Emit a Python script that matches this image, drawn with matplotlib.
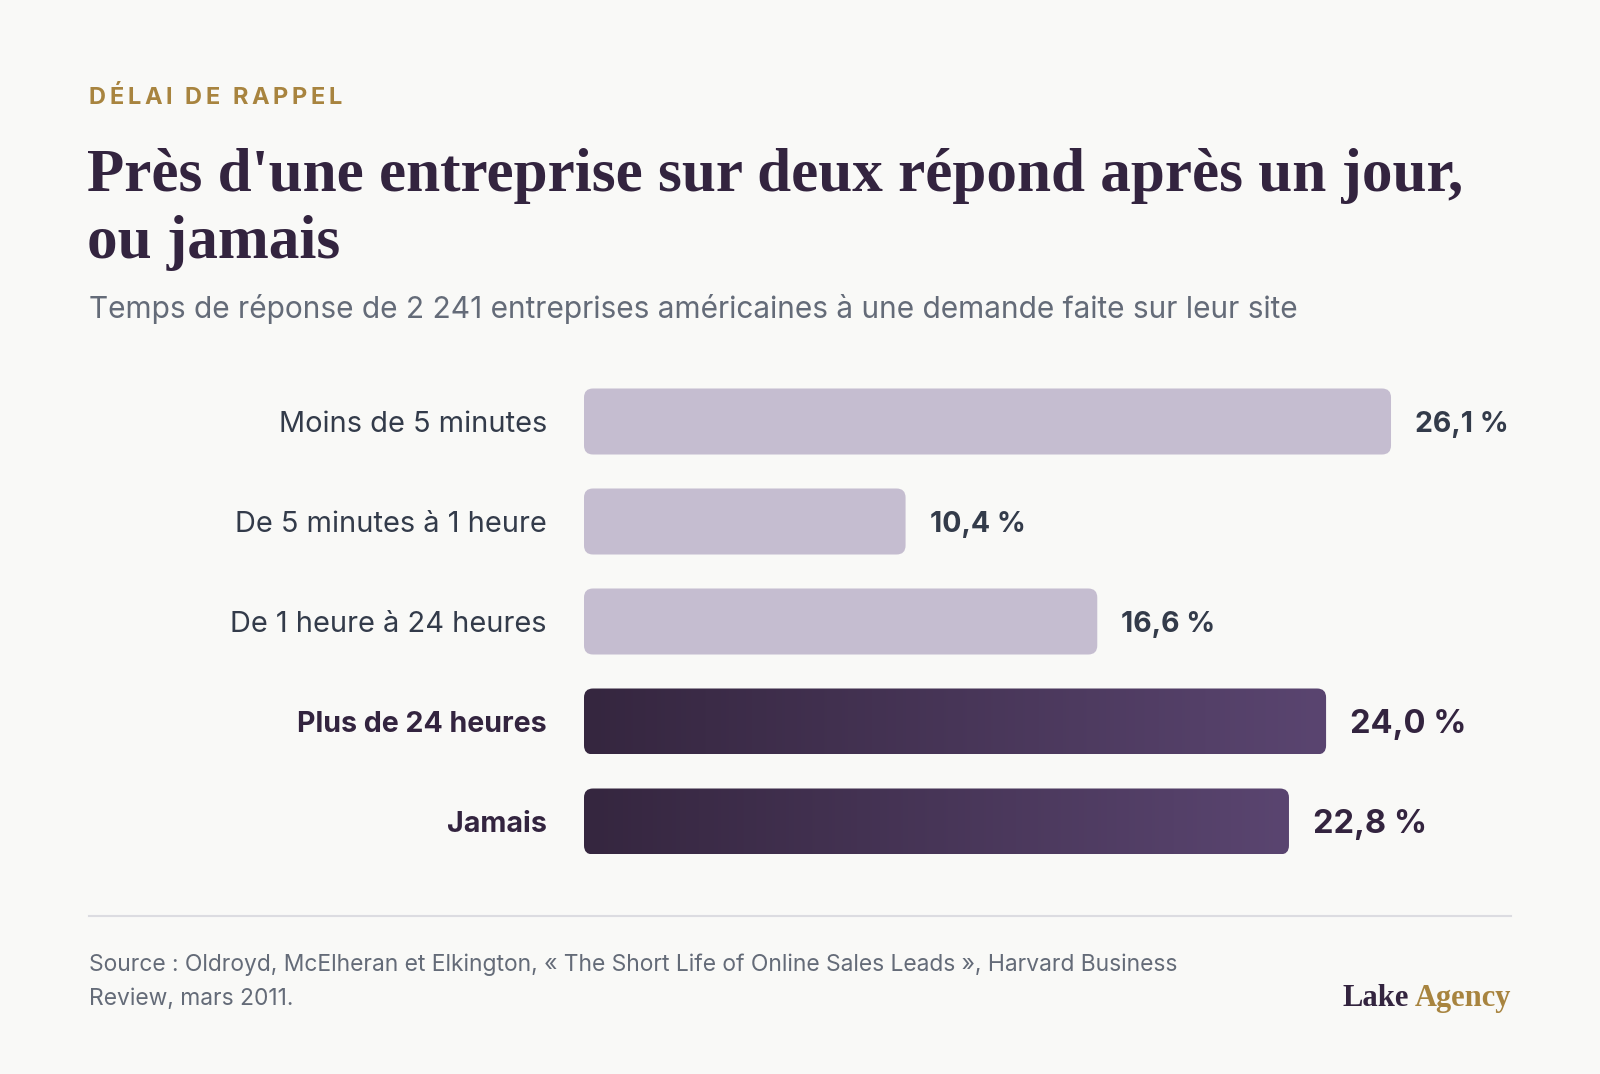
import numpy as np
import matplotlib
matplotlib.use('Agg')
import matplotlib.pyplot as plt
from matplotlib.patches import FancyBboxPatch
from matplotlib.colors import LinearSegmentedColormap

# data
categories = ['Moins de 5 minutes', 'De 5 minutes à 1 heure', 'De 1 heure à 24 heures',
              'Plus de 24 heures', 'Jamais']
shares = [26.1, 10.4, 16.6, 24.0, 22.8]
highlight = [False, False, False, True, True]
value_labels = ['26,1 %', '10,4 %', '16,6 %', '24,0 %', '22,8 %']

eyebrow = 'DÉLAI DE RAPPEL'
title_lines = ["Près d'une entreprise sur deux répond après un jour,", 'ou jamais']
subtitle = 'Temps de réponse de 2 241 entreprises américaines à une demande faite sur leur site'
source_lines = ['Source : Oldroyd, McElheran et Elkington, « The Short Life of Online Sales Leads », Harvard Business',
                'Review, mars 2011.']

BG = '#f9f9f7'
GOLD = '#a8843f'
DARK = '#33243f'
GRAY = '#646b78'
LABEL = '#333b4a'
LIGHT_BAR = '#c5bdd0'
SANS = ['Inter', 'DejaVu Sans']
SERIF = ['Liberation Serif', 'DejaVu Serif']

W, H = 1600, 1074
fig = plt.figure(figsize=(W / 100, H / 100), dpi=100, facecolor=BG)


def fx(px):
    return px / W


def fy(py):
    return 1 - py / H


# header: eyebrow with letter spacing, char by char
fig.canvas.draw()
renderer = fig.canvas.get_renderer()
x = 89
for ch in eyebrow:
    t = fig.text(fx(x), fy(104), ch, family=SANS, fontsize=17, fontweight='bold',
                 color=GOLD, va='baseline')
    if ch == ' ':
        w = t.get_window_extent(renderer).width
        w = w if w > 1 else 5
    else:
        w = t.get_window_extent(renderer).width
    x += w + 3.6

for i, line in enumerate(title_lines):
    fig.text(fx(87), fy(191 + i * 67), line, family=SERIF, fontsize=44,
             fontweight='bold', color=DARK, va='baseline')
fig.text(fx(89), fy(318), subtitle, family=SANS, fontsize=21.5, color=GRAY, va='baseline')

# bars
ax = fig.add_axes([fx(584), fy(871.5), 927.6 / W, 500 / H])
ax.set_xlim(0, 30)
ax.set_ylim(len(categories) - 0.5, -0.5)
ax.axis('off')

px_x = 927.6 / 30
px_y = 100.0
bar_h = 0.66
rad = 9 / px_x
cmap = LinearSegmentedColormap.from_list('dark', ['#35263f', '#5a4570'])
grad = np.linspace(0, 1, 256).reshape(1, -1)
dy = 0.035

for i, (cat, v) in enumerate(zip(categories, shares)):
    patch = FancyBboxPatch((0, i - bar_h / 2), v, bar_h,
                           boxstyle=f'round,pad=0,rounding_size={rad}',
                           mutation_aspect=px_x / px_y,
                           facecolor=LIGHT_BAR if not highlight[i] else 'none',
                           edgecolor='none')
    ax.add_patch(patch)
    if highlight[i]:
        im = ax.imshow(grad, cmap=cmap, aspect='auto',
                       extent=(0, v, i + bar_h / 2, i - bar_h / 2))
        im.set_clip_path(patch)
        ax.text(-37 / px_x, i + dy, cat, family=SANS, fontsize=20.6, fontweight='bold',
                color=DARK, ha='right', va='center')
        ax.text(v + 24 / px_x, i + dy, value_labels[i], family=SANS, fontsize=23.5,
                fontweight='bold', color=DARK, ha='left', va='center')
    else:
        ax.text(-37 / px_x, i + dy, cat, family=SANS, fontsize=20.9, color=LABEL,
                ha='right', va='center')
        ax.text(v + 24 / px_x, i + dy, value_labels[i], family=SANS, fontsize=20.5,
                fontweight='bold', color=LABEL, ha='left', va='center')

ax.set_xlim(0, 30)
ax.set_ylim(len(categories) - 0.5, -0.5)

# footer
fig.add_artist(plt.Line2D([fx(89), fx(1511)], [fy(916), fy(916)], color='#dcdce1', lw=1.5))
for i, line in enumerate(source_lines):
    fig.text(fx(89), fy(971 + i * 34), line, family=SANS, fontsize=16.45, color=GRAY,
             va='baseline')
agency = fig.text(fx(1511), fy(1006), 'Agency', family=SERIF, fontsize=22,
                  fontweight='bold', color=GOLD, ha='right', va='baseline')
bb = agency.get_window_extent(renderer)
fig.text(bb.x0 / W - fx(6), fy(1006), 'Lake', family=SERIF, fontsize=22,
         fontweight='bold', color=DARK, ha='right', va='baseline')

fig.savefig('out.png', dpi=100, facecolor=BG)
